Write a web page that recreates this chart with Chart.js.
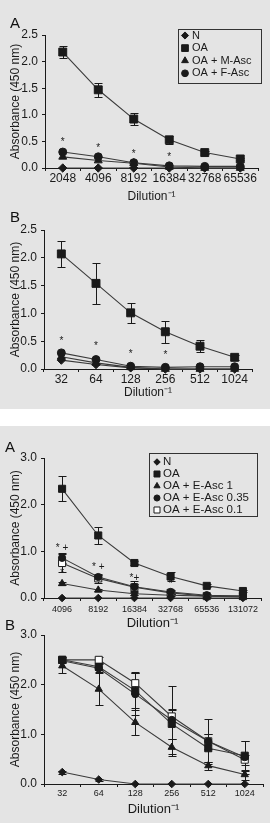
<!DOCTYPE html>
<html>
<head>
<meta charset="utf-8">
<script src="https://cdn.jsdelivr.net/npm/chart.js@4.4.1/dist/chart.umd.min.js"></script>
<style>
  body { margin: 0; width: 273px; height: 828px; background: #fff; position: relative; overflow: hidden;
         font-family: 'Liberation Sans', Arial, sans-serif; }
  .bg { position: absolute; left: 0; width: 270px; background: #e4e4e4; }
  canvas { position: absolute; left: 0; }
  .lbl { position: absolute; font-size: 15px; line-height: 15px; color: #111; }
</style>
</head>
<body>
<div class="bg" style="top:0;height:409px"></div>
<div class="bg" style="top:426px;height:397px"></div>

<canvas id="c1" width="270" height="208" style="top:0"></canvas>
<canvas id="c2" width="270" height="194" style="top:210px"></canvas>
<canvas id="c3" width="270" height="209" style="top:426px"></canvas>
<canvas id="c4" width="270" height="206" style="top:615px"></canvas>

<div class="lbl" style="left:10px;top:15px">A</div>
<div class="lbl" style="left:10px;top:209px">B</div>
<div class="lbl" style="left:5px;top:439px">A</div>
<div class="lbl" style="left:5px;top:617px">B</div>

<script>
// ---- data: first figure (M-Asc / F-Asc) ----
const dilA1 = ['2048', '4096', '8192', '16384', '32768', '65536'];
const nA1 = [0, 0, 0, 0, 0, 0];
const oaA1 = [2.18, 1.47, 0.92, 0.53, 0.29, 0.17];
const mAscA1 = [0.21, 0.14, 0.09, 0.02, 0, 0];
const fAscA1 = [0.30, 0.21, 0.10, 0.04, 0.03, 0.03];
const oaErrA1 = [0.12, 0.13, 0.11, 0.08, 0.03, 0.02];
const starsA1 = [[0, 0.49, '*'], [1, 0.38, '*'], [2, 0.25, '*'], [3, 0.2, '*']];

const dilB1 = ['32', '64', '128', '256', '512', '1024'];
const nB1 = [0.16, 0.08, 0.02, 0, 0, 0];
const oaB1 = [2.07, 1.54, 1.01, 0.67, 0.41, 0.21];
const mAscB1 = [0.22, 0.11, 0.03, 0, 0, 0];
const fAscB1 = [0.29, 0.17, 0.05, 0.03, 0.04, 0.04];
const oaErrB1 = [0.24, 0.37, 0.18, 0.2, 0.11, 0.04];
const starsB1 = [[0, 0.5, '*'], [1, 0.41, '*'], [2, 0.26, '*'], [3, 0.24, '*']];

// ---- data: second figure (E-Asc) ----
const dilA2 = ['4096', '8192', '16384', '32768', '65536', '131072'];
const nA2 = [0, 0, 0, 0, 0, 0];
const oaA2 = [2.34, 1.34, 0.75, 0.46, 0.26, 0.15];
const e1A2 = [0.31, 0.17, 0.09, 0.06, 0.04, 0.02];
const e035A2 = [0.86, 0.45, 0.24, 0.13, 0.06, 0.04];
const e01A2 = [0.75, 0.42, 0.23, 0.11, 0.04, 0.04];
const oaErrA2 = [0.27, 0.18, 0.04, 0.09, 0.03, 0.03];
const e1ErrA2 = [0.04, 0.02, 0.03, 0.02, 0, 0];
const e035ErrA2 = [0.11, 0.05, 0.13, 0.04, 0.02, 0];
const e01ErrA2 = [0.2, 0.1, 0.08, 0.03, 0.02, 0];
const starsA2 = [[0, 1.06, '* +'], [0, 0.54, '*'], [1, 0.65, '* +'], [2, 0.42, '*+'], [3, 0.3, '*']];

const dilB2 = ['32', '64', '128', '256', '512', '1024'];
const nB2 = [0.24, 0.09, 0, 0, 0, 0];
const oaB2 = [2.5, 2.36, 1.88, 1.21, 0.72, 0.57];
const e1B2 = [2.38, 1.91, 1.24, 0.74, 0.37, 0.19];
const e035B2 = [2.48, 2.33, 1.81, 1.29, 0.86, 0.54];
const e01B2 = [2.5, 2.5, 2.03, 1.36, 0.86, 0.49];
const nErrB2 = [0.03, 0.02, 0, 0, 0, 0];
const oaErrB2 = [0.05, 0.07, 0.35, 0.3, 0.28, 0.3];
const e1ErrB2 = [0.14, 0.32, 0.25, 0.17, 0.08, 0.1];
const e035ErrB2 = [0.05, 0.08, 0.42, 0.69, 0.45, 0.33];
const e01ErrB2 = [0.05, 0.06, 0.22, 0.12, 0.15, 0.1];

const FONT = "'Liberation Sans', Arial, sans-serif";
const INK = '#1a1a1a';

// error bars, drawn under the markers
const errorBars = {
  id: 'errorBars',
  beforeDatasetsDraw(chart) {
    const { ctx, scales: { x, y } } = chart;
    const cap = chart.options.plugins.errorBars.cap;
    ctx.save();
    ctx.strokeStyle = INK;
    ctx.lineWidth = 1;
    chart.data.datasets.forEach(ds => {
      if (!ds.errors) return;
      ds.data.forEach((v, i) => {
        const e = ds.errors[i];
        if (!e) return;
        const px = Math.round(x.getPixelForValue(i)) + 0.5;
        const t = Math.round(y.getPixelForValue(v + e)) + 0.5;
        const b = Math.round(y.getPixelForValue(Math.max(v - e, 0))) + 0.5;
        ctx.beginPath();
        ctx.moveTo(px, t); ctx.lineTo(px, b);
        ctx.moveTo(px - cap, t); ctx.lineTo(px + cap, t);
        if (v - e > 0) { ctx.moveTo(px - cap, b); ctx.lineTo(px + cap, b); }
        ctx.stroke();
      });
    });
    ctx.restore();
  }
};

// significance marks (* and +)
const starMarks = {
  id: 'starMarks',
  afterDatasetsDraw(chart) {
    const { ctx, scales: { x, y } } = chart;
    const o = chart.options.plugins.starMarks;
    ctx.save();
    ctx.fillStyle = INK;
    ctx.font = o.size + 'px ' + FONT;
    ctx.textAlign = 'center';
    ctx.textBaseline = 'middle';
    o.marks.forEach(([i, v, t]) => {
      ctx.fillText(t, x.getPixelForValue(i) + (o.dx || 0), y.getPixelForValue(v));
    });
    ctx.restore();
  }
};

// boxed legend inside the plot
const boxLegend = {
  id: 'boxLegend',
  afterDraw(chart) {
    const o = chart.options.plugins.boxLegend;
    const ctx = chart.ctx;
    ctx.save();
    ctx.strokeStyle = '#333';
    ctx.lineWidth = 1;
    ctx.strokeRect(o.x + 0.5, o.y + 0.5, o.w, o.h);
    ctx.font = o.size + 'px ' + FONT;
    ctx.textBaseline = 'middle';
    chart.data.datasets.forEach((ds, k) => {
      const cy = o.first + k * o.row;
      ctx.fillStyle = ds.pointBackgroundColor;
      ctx.strokeStyle = ds.pointBorderColor;
      Chart.helpers.drawPoint(ctx, { pointStyle: ds.pointStyle, radius: ds.pointRadius * o.scale, borderWidth: 1 }, o.mx, cy);
      ctx.fillStyle = INK;
      ctx.fillText(ds.label, o.tx, cy);
    });
    ctx.restore();
  }
};

function series(label, data, style, radius, errors, open) {
  return {
    label, data, errors,
    pointStyle: style,
    pointRadius: radius,
    pointHoverRadius: radius,
    pointBackgroundColor: open ? '#ffffff' : INK,
    pointBorderColor: INK,
    pointBorderWidth: 1,
    borderColor: '#3a3a3a',
    borderWidth: 1.1,
    tension: 0,
    clip: false
  };
}

function panel(id, labels, datasets, p) {
  new Chart(document.getElementById(id), {
    type: 'line',
    data: { labels, datasets },
    plugins: [errorBars, starMarks, boxLegend],
    options: {
      responsive: false,
      animation: false,
      layout: { padding: { top: p.padTop, right: p.padRight, left: 0, bottom: 0 } },
      plugins: {
        legend: { display: false },
        tooltip: { enabled: false },
        errorBars: { cap: p.cap },
        starMarks: { marks: p.marks || [], size: p.starSize, dx: 0 },
        boxLegend: p.legend || { x: -50, y: -50, w: 0, h: 0, first: -50, row: 0, mx: -50, tx: -50, size: 1, scale: 0 }
      },
      scales: {
        x: {
          type: 'category',
          offset: true,
          grid: { offset: true, drawOnChartArea: false, drawTicks: true, tickLength: 3, color: INK },
          border: { display: true, color: INK, width: 1 },
          ticks: { color: INK, font: { family: FONT, size: p.xTickSize }, padding: p.xTickPad, maxRotation: 0, autoSkip: false },
          title: { display: true, text: 'Dilution⁻¹', color: INK, font: { family: FONT, size: p.titleSize }, padding: { top: 0, bottom: 4 } },
          afterFit: s => { s.height = p.xH; }
        },
        y: {
          min: 0, max: p.yMax,
          grid: { drawOnChartArea: false, drawTicks: true, tickLength: 3, color: INK },
          border: { display: true, color: INK, width: 1 },
          ticks: { stepSize: p.yStep, color: INK, font: { family: FONT, size: p.yTickSize }, padding: 4, callback: v => v.toFixed(1) },
          title: { display: true, text: 'Absorbance (450 nm)', color: INK, font: { family: FONT, size: 12 }, padding: { top: 8, bottom: 0 } },
          afterFit: s => { s.width = p.yW; }
        }
      }
    }
  });
}

panel('c1', dilA1, [
  series('N', nA1, 'rectRot', 4.2),
  series('OA', oaA1, 'rect', 5.6, oaErrA1),
  series('OA + M-Asc', mAscA1, 'triangle', 4.6),
  series('OA + F-Asc', fAscA1, 'circle', 4)
], { padTop: 35, padRight: 12, yW: 45, xH: 40, yMax: 2.5, yStep: 0.5, xTickSize: 12, yTickSize: 12, titleSize: 12,
     xTickPad: 0, cap: 4, marks: starsA1, starSize: 10,
     legend: { x: 178, y: 29, w: 83, h: 54, first: 35.5, row: 12.6, mx: 185, tx: 192, size: 11, scale: 0.85 } });

panel('c2', dilB1, [
  series('N', nB1, 'rectRot', 4.2),
  series('OA', oaB1, 'rect', 5.6, oaErrB1),
  series('OA + M-Asc', mAscB1, 'triangle', 4.6),
  series('OA + F-Asc', fAscB1, 'circle', 4)
], { padTop: 20, padRight: 18, yW: 44, xH: 35, yMax: 2.5, yStep: 0.5, xTickSize: 12, yTickSize: 12, titleSize: 12,
     xTickPad: 0, cap: 4, marks: starsB1, starSize: 10 });

panel('c3', dilA2, [
  series('N', nA2, 'rectRot', 3.8),
  series('OA', oaA2, 'rect', 5, oaErrA2),
  series('OA + E-Asc 1', e1A2, 'triangle', 4.2, e1ErrA2),
  series('OA + E-Asc 0.35', e035A2, 'circle', 3.6, e035ErrA2),
  series('OA + E-Asc 0.1', e01A2, 'rect', 5, e01ErrA2, true)
], { padTop: 32, padRight: 9, yW: 44, xH: 37, yMax: 3, yStep: 1, xTickSize: 9, yTickSize: 12, titleSize: 13,
     xTickPad: 3, cap: 4, marks: starsA2, starSize: 10,
     legend: { x: 149, y: 27, w: 108, h: 63, first: 36, row: 12, mx: 157, tx: 163, size: 11.5, scale: 0.85 } });

panel('c4', dilB2, [
  series('N', nB2, 'rectRot', 3.8, nErrB2),
  series('OA', oaB2, 'rect', 5, oaErrB2),
  series('OA + E-Asc 1', e1B2, 'triangle', 4.2, e1ErrB2),
  series('OA + E-Asc 0.35', e035B2, 'circle', 3.6, e035ErrB2),
  series('OA + E-Asc 0.1', e01B2, 'rect', 5, e01ErrB2, true)
], { padTop: 20, padRight: 7, yW: 44, xH: 37, yMax: 3, yStep: 1, xTickSize: 9, yTickSize: 12, titleSize: 13,
     xTickPad: 1.5, cap: 4 });
</script>
</body>
</html>
